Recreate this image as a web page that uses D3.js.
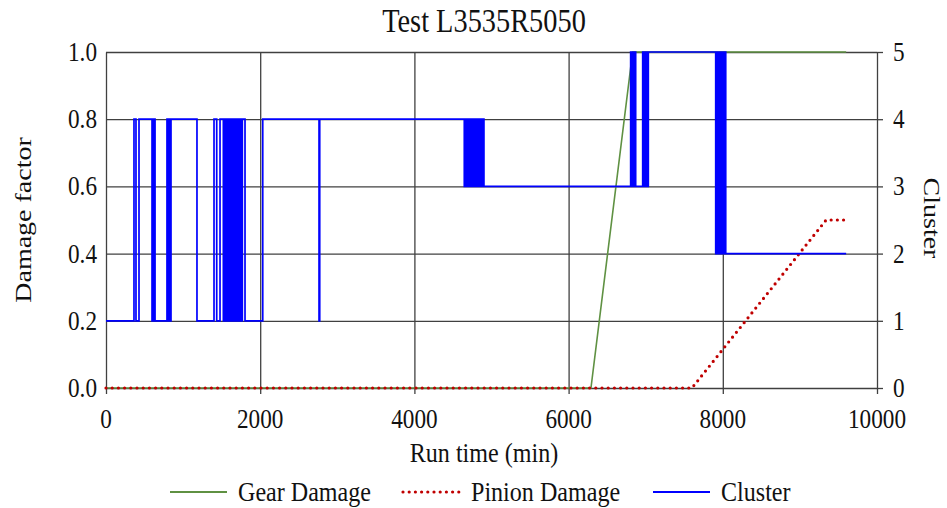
<!DOCTYPE html>
<html><head><meta charset="utf-8">
<script src="https://cdn.jsdelivr.net/npm/d3@7"></script>
<style>
body{margin:0;background:#fff}
svg{display:block;font-family:"Liberation Serif","Times New Roman",serif}
</style>
</head><body><svg id="c" width="947" height="508"></svg>
<script>
const chartTitle = "Test L3535R5050";
const xLabel = "Run time (min)";
const yLabel = "Damage factor";
const y2Label = "Cluster";
const xTicks = [0, 2000, 4000, 6000, 8000, 10000];
const yTicks = [0, 0.2, 0.4, 0.6, 0.8, 1.0];
const y2Ticks = [0, 1, 2, 3, 4, 5];

const gearTime = [0, 6290, 6830, 9600];
const gearValue = [0, 0, 1, 1];
const pinionTime = [0, 7600, 9340, 9600];
const pinionValue = [0, 0, 0.5, 0.5];

// cluster: time at which the cluster changes, and the cluster from then on
const clusterTime = [0, 363, 389, 428,
  597, 606, 615, 624, 636,
  791, 800, 809, 818, 827, 836, 843,
  1180, 1401, 1436, 1479,
  1522, 1533, 1545, 1556, 1568, 1580, 1591, 1603, 1615, 1626, 1638, 1650, 1661, 1673, 1685, 1696, 1708, 1720, 1731, 1743, 1755, 1768,
  1803, 2033, 2763, 2772,
  4647, 4660, 4673, 4686, 4699, 4712, 4725, 4738, 4751, 4764, 4777, 4790, 4803, 4816, 4829, 4842, 4855, 4868, 4881, 4894, 4902,
  6805, 6818, 6831, 6844, 6857, 6870,
  6961, 6974, 6987, 7000, 7013, 7026, 7034,
  7908, 7921, 7934, 7947, 7960, 7973, 7986, 7999, 8012, 8025, 8038];
const clusterValue = [1, 4, 1, 4,
  1, 4, 1, 4, 1,
  4, 1, 4, 1, 4, 1, 4,
  1, 4, 1, 4,
  1, 4, 1, 4, 1, 4, 1, 4, 1, 4, 1, 4, 1, 4, 1, 4, 1, 4, 1, 4, 1, 4,
  1, 4, 1, 4,
  3, 4, 3, 4, 3, 4, 3, 4, 3, 4, 3, 4, 3, 4, 3, 4, 3, 4, 3, 4, 3,
  5, 3, 5, 3, 5, 3,
  5, 3, 5, 3, 5, 3, 5,
  2, 5, 2, 5, 2, 5, 2, 5, 2, 5, 2];
const clusterEndTime = 9600;

const legendLabels = ["Gear Damage", "Pinion Damage", "Cluster"];
const seriesColors = ["#5f9142", "#c00000", "#0000ff"];

const svg = d3.select("#c");
const L = 106, R = 877, T = 52, B = 388;
const x = d3.scaleLinear().domain([0, 10000]).range([L, R]);
const y = d3.scaleLinear().domain([0, 1]).range([B, T]);
const y2 = d3.scaleLinear().domain([0, 5]).range([B, T]);
const gridColor = "#404040";
const SX = 0.86; // glyph width squeeze seen in the reference

function label(px, py, str, size, anchor, rot) {
  const tr = rot ? `translate(${px},${py}) rotate(${rot}) scale(1,${SX})`
                 : `translate(${px},${py}) scale(${SX},1)`;
  return svg.append("text").attr("transform", tr).attr("text-anchor", anchor || "start")
    .attr("font-size", size).attr("fill", "#111").text(str);
}

// horizontal grid
svg.append("g").attr("transform", `translate(${L},0)`)
  .call(d3.axisLeft(y).tickValues(yTicks.slice(1)).tickSize(-(R - L)).tickFormat(""))
  .call(g => g.select(".domain").remove())
  .selectAll("line").attr("stroke", gridColor).attr("stroke-width", 1.3);
// vertical grid
svg.append("g").attr("transform", `translate(0,${B})`)
  .call(d3.axisBottom(x).tickValues(xTicks.slice(1, -1)).tickSize(-(B - T)).tickFormat(""))
  .call(g => g.select(".domain").remove())
  .selectAll("line").attr("stroke", gridColor).attr("stroke-width", 1.3);

// axis lines and ticks
const ga = svg.append("g").attr("transform", `translate(${L},0)`)
  .call(d3.axisLeft(y).tickValues(yTicks).tickSize(0).tickSizeOuter(0).tickFormat(""));
const gb = svg.append("g").attr("transform", `translate(${R},0)`)
  .call(d3.axisRight(y2).tickValues(y2Ticks).tickSize(6).tickSizeOuter(0).tickFormat(""));
const gc = svg.append("g").attr("transform", `translate(0,${B})`)
  .call(d3.axisBottom(x).tickValues(xTicks).tickSize(6).tickSizeOuter(0).tickFormat(""));
[ga, gb, gc].forEach(g => {
  g.select(".domain").attr("stroke", gridColor).attr("stroke-width", 1.3);
  g.selectAll("line").attr("stroke", gridColor).attr("stroke-width", 1.3);
});

// tick labels
const fmt1 = d3.format(".1f"), fmtd = d3.format("d");
yTicks.forEach(v => label(L - 9, y(v) + 9, fmt1(v), 27, "end"));
y2Ticks.forEach(v => label(R + 16, y2(v) + 9, fmtd(v), 27, "start"));
xTicks.forEach(v => label(x(v), B + 40, fmtd(v), 27, "middle"));

// series
const line = d3.line().x(d => x(d[0])).y(d => d[1]);
const gearPts = gearTime.map((t, i) => [t, y(gearValue[i])]);
svg.append("path").attr("d", line(gearPts)).attr("fill", "none")
  .attr("stroke", seriesColors[0]).attr("stroke-width", 1.6);
const pinPts = pinionTime.map((t, i) => [t, y(pinionValue[i])]);
svg.append("path").attr("d", line(pinPts)).attr("fill", "none")
  .attr("stroke", seriesColors[1]).attr("stroke-width", 3.2)
  .attr("stroke-linecap", "round").attr("stroke-dasharray", "0,6.2");
const clPts = [];
clusterTime.forEach((t, i) => {
  if (i > 0) clPts.push([t, y2(clusterValue[i - 1])]);
  clPts.push([t, y2(clusterValue[i])]);
});
clPts.push([clusterEndTime, y2(clusterValue[clusterValue.length - 1])]);
svg.append("path").attr("d", line(clPts)).attr("fill", "none")
  .attr("stroke", seriesColors[2]).attr("stroke-width", 1.7);

// titles
label(484, 32, chartTitle, 33, "middle");
label(484, 462, xLabel, 28, "middle");
label(31, 220, yLabel, 28, "middle", -90);
label(924, 218, y2Label, 28, "middle", 90);

// legend
const legX = [170, 403, 653];
const legY = 492;
legendLabels.forEach((lab, i) => {
  const ln = svg.append("line").attr("x1", legX[i]).attr("x2", legX[i] + 57)
    .attr("y1", legY).attr("y2", legY).attr("stroke", seriesColors[i]);
  if (i === 1) ln.attr("stroke-width", 3.2).attr("stroke-linecap", "round").attr("stroke-dasharray", "0,6.2");
  else ln.attr("stroke-width", 1.8);
  label(legX[i] + 68, legY + 9, lab, 28, "start");
});
</script>
</body></html>
